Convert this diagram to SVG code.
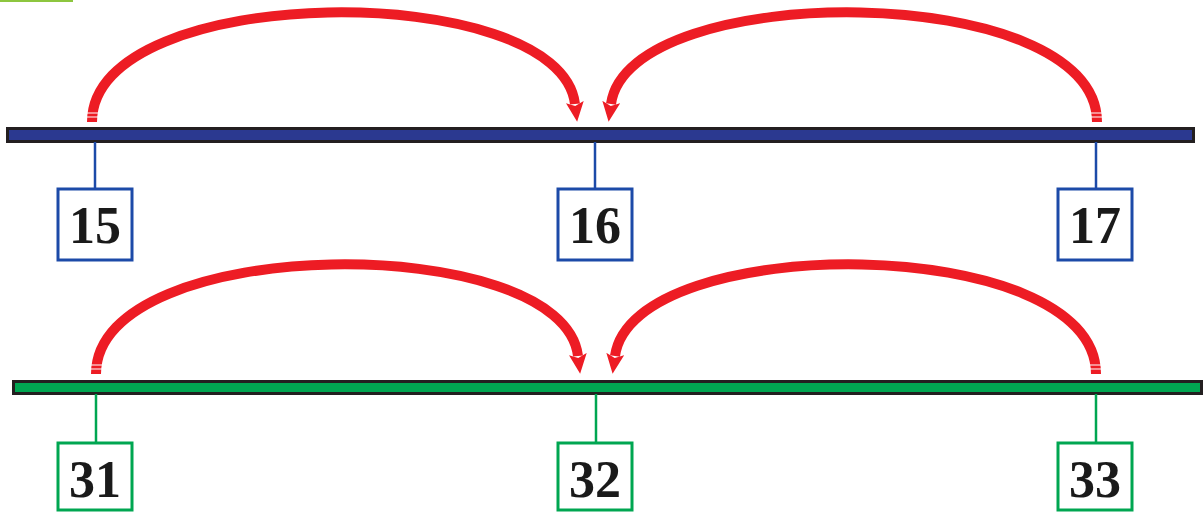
<svg xmlns="http://www.w3.org/2000/svg" width="1203" height="512" viewBox="0 0 1203 512">
<style>
.arc{fill:none;stroke:#ed1c24;stroke-width:10;stroke-linecap:butt}
.tailgap{stroke:#fff;stroke-width:1.2;opacity:0.85}
.barB{fill:#2b3990;stroke:#231f20;stroke-width:3}
.barG{fill:#00a651;stroke:#231f20;stroke-width:3}
.stemB{stroke:#1c4aa8;stroke-width:2.5}
.stemG{stroke:#00a651;stroke-width:2.5}
.boxB{fill:#fff;stroke:#1c4aa8;stroke-width:3}
.boxG{fill:#fff;stroke:#00a651;stroke-width:3}
.lbl{font-family:"Liberation Serif","Times New Roman",serif;font-weight:bold;font-size:52px;fill:#1a1a1a;text-anchor:middle}
</style>
<defs>
<marker id="ah" viewBox="0 0 20 18" refX="2" refY="9" markerWidth="20" markerHeight="18" markerUnits="userSpaceOnUse" orient="auto">
<path d="M0,0 L20,9 L0,18 L4,9 z" fill="#ed1c24"/>
</marker>
</defs>
<rect x="0" y="0" width="73" height="2" fill="#8dc63f"/>
<g id="bus-top">
<rect class="barB" x="7.5" y="128.5" width="1186" height="13"/>
</g>
<g id="bus-bottom">
<rect class="barG" x="13.5" y="381.5" width="1188" height="12"/>
</g>
<g id="connectors">
<line class="stemB" x1="95" y1="142" x2="95" y2="188"/>
<line class="stemB" x1="595" y1="142" x2="595" y2="188"/>
<line class="stemB" x1="1096" y1="142" x2="1096" y2="188"/>
<line class="stemG" x1="96" y1="394" x2="96" y2="442"/>
<line class="stemG" x1="596" y1="394" x2="596" y2="442"/>
<line class="stemG" x1="1096" y1="394" x2="1096" y2="442"/>
<path class="arc" d="M92,122 C92,-20 560,-22 575,104" marker-end="url(#ah)"/>
<path class="arc" d="M1097,122 C1097,-20 628,-22 611,104" marker-end="url(#ah)"/>
<path class="arc" d="M96,374 C96,232 563,230 578,356" marker-end="url(#ah)"/>
<path class="arc" d="M1096,374 C1096,232 632,230 615,356" marker-end="url(#ah)"/>
<g class="tailgap">
<line x1="84" y1="113" x2="100" y2="113"/><line x1="84" y1="117" x2="100" y2="117"/>
<line x1="1089" y1="113" x2="1105" y2="113"/><line x1="1089" y1="117" x2="1105" y2="117"/>
<line x1="88" y1="365" x2="104" y2="365"/><line x1="88" y1="369" x2="104" y2="369"/>
<line x1="1088" y1="365" x2="1104" y2="365"/><line x1="1088" y1="369" x2="1104" y2="369"/>
</g>
</g>
<g id="node-15"><rect class="boxB" x="58" y="189" width="74" height="71"/><text class="lbl" x="95" y="243">15</text></g>
<g id="node-16"><rect class="boxB" x="558" y="189" width="74" height="71"/><text class="lbl" x="595" y="243">16</text></g>
<g id="node-17"><rect class="boxB" x="1058" y="189" width="74" height="71"/><text class="lbl" x="1095" y="243">17</text></g>
<g id="node-31"><rect class="boxG" x="58" y="443" width="74" height="67"/><text class="lbl" x="95" y="497">31</text></g>
<g id="node-32"><rect class="boxG" x="558" y="443" width="74" height="67"/><text class="lbl" x="595" y="497">32</text></g>
<g id="node-33"><rect class="boxG" x="1058" y="443" width="74" height="67"/><text class="lbl" x="1095" y="497">33</text></g>
</svg>
